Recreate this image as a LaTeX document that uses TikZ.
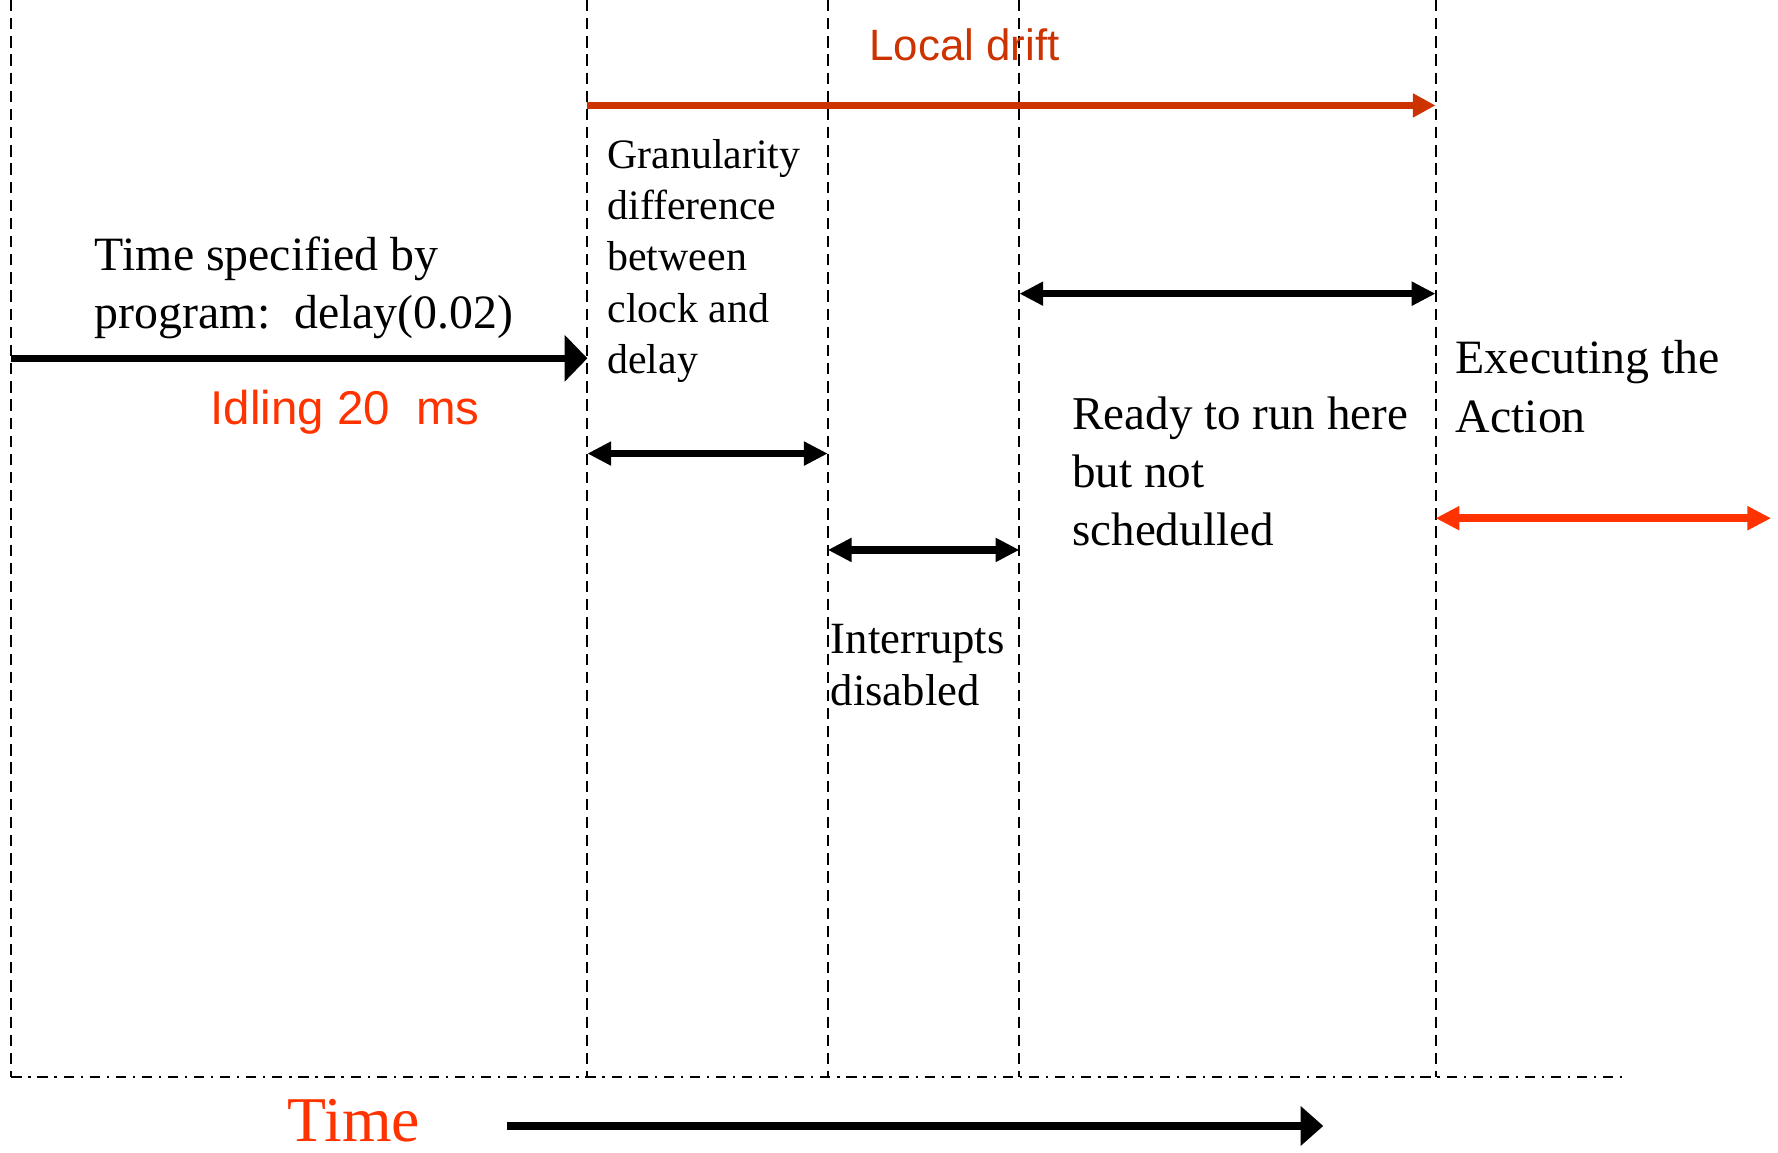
\documentclass[tikz,border=0pt]{standalone}
\usepackage{fontspec}
\setmainfont{Liberation Serif}
\newfontfamily\arialfont{Liberation Sans}
\usepackage{xcolor}
\usetikzlibrary{positioning, arrows.meta, calc}

\definecolor{driftred}{RGB}{204,51,0}
\definecolor{hotred}{RGB}{255,51,0}

\begin{document}
\begin{tikzpicture}[
    x=0.01cm, y=-0.01cm,
    guide/.style={line width=0.5pt, dash pattern=on 0.1cm off 0.06cm},
    axisline/.style={line width=0.6pt, dash pattern=on 0.09cm off 0.06cm on 0.02cm off 0.06cm},
    span/.style={<->, >={Triangle[length=0.21cm, width=0.2cm]}, line width=0.065cm},
    specarrow/.style={->, >={Triangle[length=0.2cm, width=0.4cm]}, line width=0.065cm},
    timearrow/.style={->, >={Triangle[length=0.2cm, width=0.34cm]}, line width=0.07cm},
    driftarrow/.style={->, >={Triangle[length=0.2cm, width=0.2cm]}, line width=0.066cm, driftred},
    label/.style={inner sep=0pt, anchor=base west, align=left},
    bigtext/.style={label, font=\fontsize{12}{14.6}\selectfont},
    smalltext/.style={label, font=\fontsize{10.5}{12.8}\selectfont}
]
\useasboundingbox (0,0) rectangle (1568,1016);

% vertical guide lines
\foreach \name/\xpos in {g0/10, g1/518, g2/730, g3/899, g4/1266} {
    \coordinate (\name-top) at (\xpos, 0);
    \coordinate (\name-bot) at (\xpos, 950);
    \draw[guide] (\name-top) -- (\name-bot);
}

% time axis
\coordinate (axis-end) at (1435, 950);
\draw[axisline] (g0-bot) -- (axis-end);

% local drift
\node[label, font=\arialfont\fontsize{11}{13}\selectfont, text=driftred] (drift) at (766, 53) {Local drift};
\coordinate (drift-a) at (518, 93);
\coordinate (drift-b) at (1266, 93);
\draw[driftarrow] (drift-a) -- (drift-b);

% time specified by program (base = last line)
\node[bigtext] (spec) at (83, 290) {Time specified by\\program:\ \ delay(0.02)};
\coordinate (spec-a) at (10, 316);
\coordinate (spec-b) at (518, 316);
\draw[specarrow] (spec-a) -- (spec-b);
\node[label, font=\arialfont\fontsize{11.9}{14}\selectfont, text=hotred] (idle) at (185, 374) {Idling 20\ \ ms};

% granularity
\node[smalltext] (gran) at (535, 329) {Granularity\\difference\\between\\clock and\\delay};
\coordinate (gran-a) at (518, 400);
\coordinate (gran-b) at (730, 400);
\draw[span] (gran-a) -- (gran-b);

% interrupts disabled
\coordinate (intr-a) at (730, 485);
\coordinate (intr-b) at (899, 485);
\draw[span] (intr-a) -- (intr-b);
\node[label, font=\fontsize{11.2}{13.1}\selectfont] (intr) at (732, 622) {Interrupts\\disabled};

% ready but not scheduled
\coordinate (ready-a) at (899, 259);
\coordinate (ready-b) at (1266, 259);
\draw[span] (ready-a) -- (ready-b);
\node[label, font=\fontsize{11.8}{14.5}\selectfont] (ready) at (945, 481) {Ready to run here\\but not\\schedulled};

% executing the action
\node[bigtext] (exec) at (1283, 381) {Executing the\\Action};
\coordinate (exec-a) at (1266, 457);
\coordinate (exec-b) at (1562, 457);
\draw[span, hotred, line width=0.07cm] (exec-a) -- (exec-b);

% time arrow
\node[label, font=\fontsize{16}{19}\selectfont, text=hotred] (time) at (253, 1007) {Time};
\coordinate (time-a) at (447, 993);
\coordinate (time-b) at (1167, 993);
\draw[timearrow] (time-a) -- (time-b);

\end{tikzpicture}
\end{document}
